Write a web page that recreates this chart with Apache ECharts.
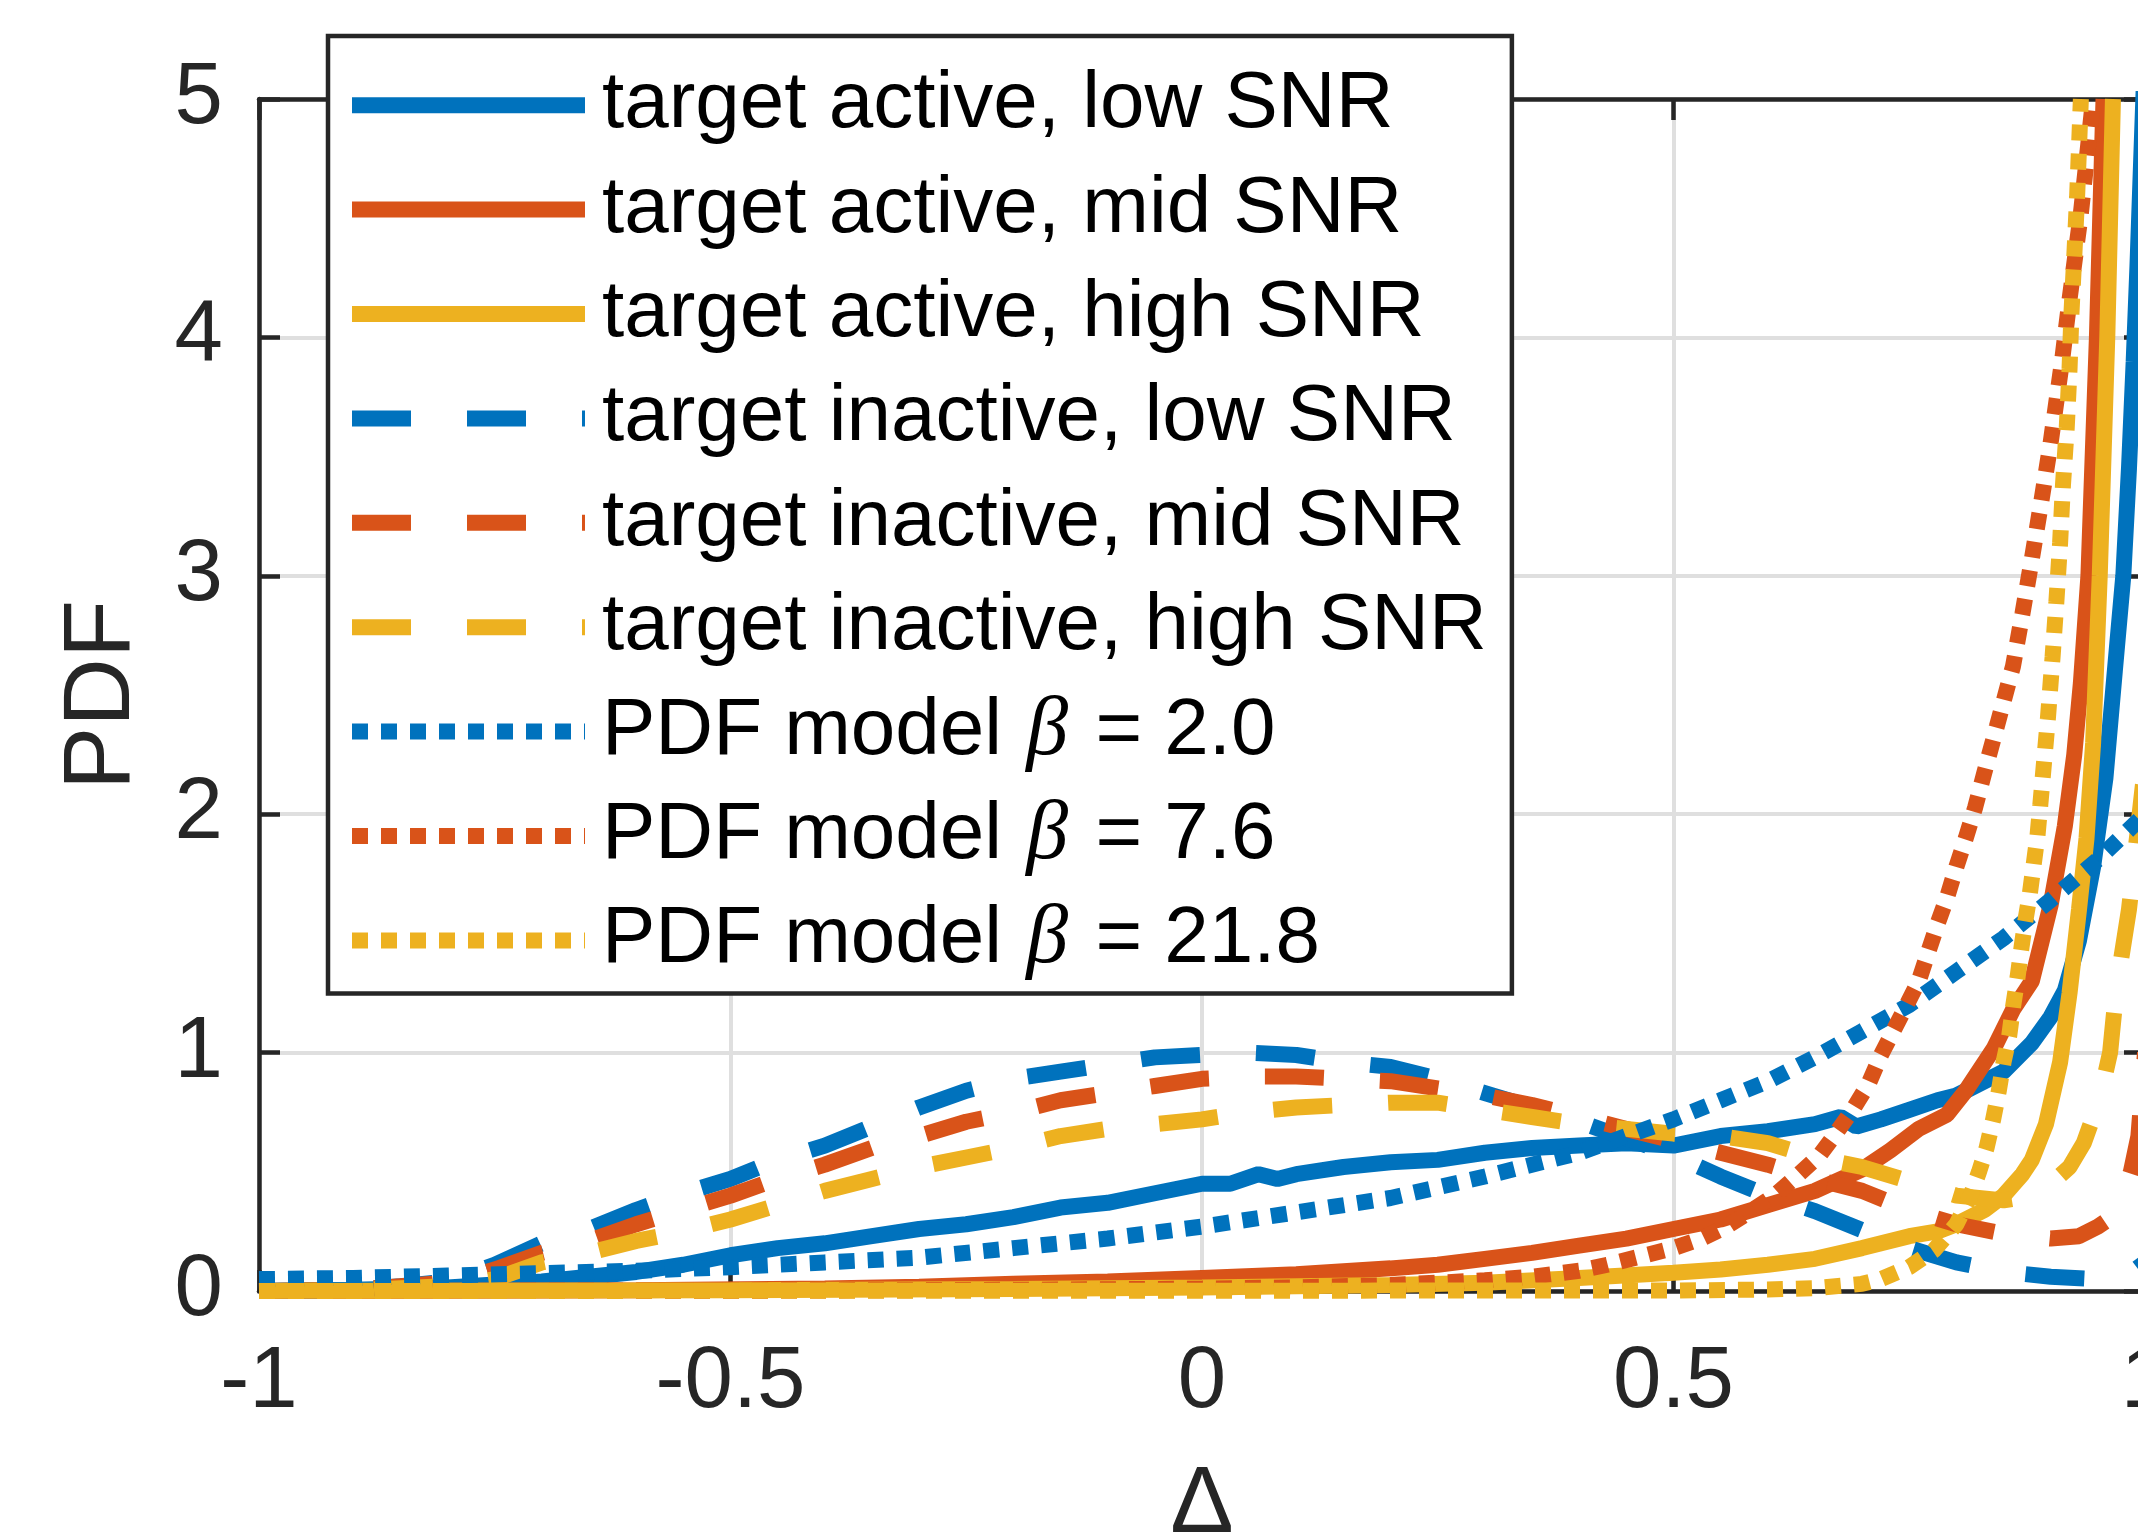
<!DOCTYPE html>
<html>
<head>
<meta charset="utf-8">
<script src="https://cdn.jsdelivr.net/npm/echarts@6/dist/echarts.min.js"></script>
<style>
html, body { margin: 0; padding: 0; background: #fff; }
#chart { width: 2138px; height: 1537px; }
</style>
</head>
<body>
<div id="chart"></div>
<script>
// [delta, pdf] pairs
var activeLow = [[-1, 0], [-0.9, 0.005], [-0.8, 0.015], [-0.7, 0.04], [-0.65, 0.06], [-0.6, 0.08], [-0.55, 0.11], [-0.5, 0.15], [-0.45, 0.18], [-0.4, 0.2], [-0.35, 0.23], [-0.3, 0.26], [-0.25, 0.28], [-0.2, 0.31], [-0.15, 0.35], [-0.1, 0.37], [-0.05, 0.41], [0, 0.45], [0.03, 0.45], [0.06, 0.49], [0.08, 0.47], [0.1, 0.49], [0.15, 0.52], [0.2, 0.54], [0.25, 0.55], [0.3, 0.58], [0.35, 0.6], [0.4, 0.61], [0.45, 0.62], [0.5, 0.61], [0.55, 0.65], [0.6, 0.67], [0.65, 0.7], [0.677, 0.73], [0.694, 0.69], [0.72, 0.72], [0.75, 0.76], [0.78, 0.8], [0.8, 0.82], [0.85, 0.92], [0.88, 1.04], [0.9, 1.15], [0.915, 1.26], [0.93, 1.47], [0.945, 1.78], [0.958, 2.15], [0.968, 2.6], [0.977, 3.0], [0.983, 3.45], [0.988, 3.9], [0.992, 4.3], [1.0, 5.2]]
var activeMid = [[-1, 0], [-0.8, 0.001], [-0.6, 0.003], [-0.4, 0.01], [-0.3, 0.018], [-0.2, 0.03], [-0.1, 0.04], [0, 0.055], [0.1, 0.07], [0.2, 0.095], [0.25, 0.11], [0.3, 0.135], [0.35, 0.16], [0.4, 0.19], [0.45, 0.22], [0.5, 0.26], [0.55, 0.3], [0.6, 0.36], [0.65, 0.42], [0.7, 0.51], [0.73, 0.59], [0.76, 0.68], [0.79, 0.74], [0.81, 0.84], [0.84, 1.02], [0.86, 1.18], [0.88, 1.3], [0.9, 1.62], [0.915, 1.95], [0.925, 2.25], [0.932, 2.55], [0.94, 3.0], [0.949, 4.0], [0.956, 5.0]]
var activeHigh = [[-1, 0], [-0.5, 0.003], [-0.2, 0.008], [0, 0.015], [0.2, 0.025], [0.3, 0.035], [0.4, 0.055], [0.5, 0.077], [0.55, 0.09], [0.6, 0.11], [0.65, 0.135], [0.7, 0.18], [0.75, 0.23], [0.78, 0.25], [0.8, 0.28], [0.83, 0.34], [0.85, 0.4], [0.87, 0.49], [0.88, 0.55], [0.895, 0.7], [0.91, 0.96], [0.92, 1.25], [0.93, 1.6], [0.938, 1.9], [0.945, 2.3], [0.952, 3.0], [0.96, 4.0], [0.966, 5.0]]
var inactiveLow = [[-1, 0], [-0.9, 0.005], [-0.85, 0.02], [-0.8, 0.04], [-0.75, 0.11], [-0.7, 0.2], [-0.65, 0.26], [-0.6, 0.34], [-0.55, 0.41], [-0.5, 0.47], [-0.45, 0.55], [-0.4, 0.61], [-0.35, 0.69], [-0.3, 0.77], [-0.25, 0.84], [-0.2, 0.89], [-0.15, 0.92], [-0.1, 0.95], [-0.05, 0.98], [0, 0.99], [0.05, 1.0], [0.1, 0.99], [0.15, 0.96], [0.2, 0.94], [0.25, 0.89], [0.3, 0.83], [0.35, 0.77], [0.4, 0.71], [0.45, 0.64], [0.5, 0.57], [0.55, 0.48], [0.6, 0.4], [0.65, 0.335], [0.7, 0.255], [0.75, 0.18], [0.8, 0.12], [0.85, 0.08], [0.9, 0.06], [0.95, 0.05], [0.98, 0.06], [1.0, 0.12]]
var inactiveMid = [[-1, 0], [-0.9, 0.005], [-0.85, 0.02], [-0.8, 0.035], [-0.75, 0.09], [-0.7, 0.16], [-0.65, 0.21], [-0.6, 0.28], [-0.55, 0.34], [-0.5, 0.4], [-0.45, 0.47], [-0.4, 0.53], [-0.35, 0.6], [-0.3, 0.65], [-0.25, 0.71], [-0.2, 0.75], [-0.15, 0.8], [-0.1, 0.83], [-0.05, 0.86], [0, 0.89], [0.05, 0.9], [0.1, 0.9], [0.15, 0.89], [0.2, 0.88], [0.25, 0.85], [0.3, 0.82], [0.35, 0.78], [0.4, 0.73], [0.45, 0.68], [0.5, 0.63], [0.55, 0.58], [0.6, 0.53], [0.65, 0.47], [0.7, 0.42], [0.75, 0.34], [0.8, 0.28], [0.85, 0.24], [0.9, 0.22], [0.93, 0.23], [0.95, 0.27], [0.965, 0.31], [0.975, 0.38], [0.985, 0.5], [0.993, 0.65], [1.0, 1.0]]
var inactiveHigh = [[-1, 0], [-0.9, 0.003], [-0.8, 0.02], [-0.75, 0.05], [-0.7, 0.12], [-0.65, 0.16], [-0.6, 0.21], [-0.55, 0.25], [-0.5, 0.3], [-0.45, 0.36], [-0.4, 0.42], [-0.35, 0.47], [-0.3, 0.52], [-0.25, 0.56], [-0.2, 0.6], [-0.15, 0.65], [-0.1, 0.68], [-0.05, 0.7], [0, 0.72], [0.05, 0.75], [0.1, 0.77], [0.15, 0.78], [0.2, 0.79], [0.25, 0.79], [0.3, 0.76], [0.35, 0.73], [0.4, 0.7], [0.45, 0.68], [0.5, 0.66], [0.55, 0.65], [0.6, 0.62], [0.65, 0.56], [0.7, 0.52], [0.75, 0.46], [0.8, 0.4], [0.85, 0.38], [0.88, 0.4], [0.9, 0.45], [0.92, 0.52], [0.935, 0.62], [0.945, 0.73], [0.955, 0.86], [0.963, 1.0], [0.968, 1.2], [0.975, 1.4], [0.983, 1.6], [0.99, 1.85], [1.0, 2.2]]
var modelBeta2 = [[-1, 0.05], [-0.9, 0.055], [-0.8, 0.065], [-0.7, 0.075], [-0.6, 0.085], [-0.5, 0.1], [-0.4, 0.12], [-0.3, 0.14], [-0.2, 0.18], [-0.1, 0.22], [0, 0.27], [0.1, 0.33], [0.2, 0.39], [0.3, 0.48], [0.4, 0.58], [0.5, 0.72], [0.55, 0.8], [0.6, 0.88], [0.65, 0.98], [0.7, 1.09], [0.75, 1.2], [0.8, 1.34], [0.85, 1.48], [0.9, 1.64], [0.95, 1.81], [1.0, 2.0]]
var modelBeta76 = [[-1, 0], [-0.5, 0.001], [-0.2, 0.005], [0, 0.01], [0.1, 0.015], [0.2, 0.025], [0.25, 0.035], [0.3, 0.045], [0.35, 0.06], [0.4, 0.085], [0.43, 0.11], [0.46, 0.14], [0.5, 0.18], [0.53, 0.22], [0.556, 0.27], [0.58, 0.33], [0.607, 0.4], [0.633, 0.49], [0.655, 0.57], [0.672, 0.66], [0.69, 0.76], [0.707, 0.87], [0.72, 0.99], [0.733, 1.09], [0.746, 1.19], [0.76, 1.3], [0.77, 1.42], [0.78, 1.54], [0.79, 1.65], [0.8, 1.78], [0.81, 1.9], [0.82, 2.03], [0.83, 2.18], [0.843, 2.37], [0.86, 2.62], [0.87, 2.84], [0.88, 3.07], [0.89, 3.31], [0.9, 3.56], [0.912, 3.9], [0.92, 4.16], [0.932, 4.52], [0.945, 5.0]]
var modelBeta218 = [[-1, 0], [0.5, 0.002], [0.6, 0.006], [0.65, 0.012], [0.7, 0.03], [0.72, 0.05], [0.75, 0.1], [0.776, 0.17], [0.8, 0.28], [0.815, 0.4], [0.824, 0.5], [0.832, 0.6], [0.839, 0.72], [0.845, 0.84], [0.85, 0.96], [0.856, 1.07], [0.86, 1.19], [0.865, 1.32], [0.869, 1.44], [0.873, 1.55], [0.878, 1.67], [0.882, 1.79], [0.886, 1.91], [0.889, 2.04], [0.893, 2.22], [0.897, 2.4], [0.902, 2.66], [0.906, 2.89], [0.91, 3.14], [0.913, 3.38], [0.917, 3.62], [0.92, 3.87], [0.922, 4.1], [0.925, 4.34], [0.928, 4.59], [0.932, 5.0]]

var seriesNames = ['target active, low SNR', 'target active, mid SNR', 'target active, high SNR',
  'target inactive, low SNR', 'target inactive, mid SNR', 'target inactive, high SNR',
  'PDF model β = 2.0', 'PDF model β = 7.6', 'PDF model β = 21.8']
var seriesData = [activeLow, activeMid, activeHigh, inactiveLow, inactiveMid, inactiveHigh, modelBeta2, modelBeta76, modelBeta218]
var xTicks = [-1, -0.5, 0, 0.5, 1]
var yTicks = [0, 1, 2, 3, 4, 5]

var colors = ['#0072BD', '#D95319', '#EDB120']
var dashes = ['solid', [59, 56], [16, 13]]
var axisColor = '#262626'
var font = 'Liberation Sans'

var chart = echarts.init(document.getElementById('chart'))

var series = seriesData.map(function (d, i) {
  return {
    name: seriesNames[i],
    type: 'line',
    data: d,
    symbol: 'none',
    showSymbol: false,
    animation: false,
    clip: true,
    lineStyle: {
      color: colors[i % 3],
      width: 16,
      type: dashes[Math.floor(i / 3)],
      cap: 'butt'
    },
    itemStyle: { color: colors[i % 3] }
  }
})

function axisBase (pos, ticks) {
  return {
    type: 'value',
    position: pos,
    min: ticks[0],
    max: ticks[ticks.length - 1],
    interval: ticks[1] - ticks[0],
    axisLine: { show: true, onZero: false, lineStyle: { color: axisColor, width: 4.5 } },
    axisTick: { show: true, inside: true, length: 21, lineStyle: { color: axisColor, width: 4.5 } },
    splitLine: { show: false },
    axisLabel: { show: false }
  }
}

var xBottom = axisBase('bottom', xTicks)
xBottom.splitLine = { show: true, lineStyle: { color: '#dfdfdf', width: 4 } }
xBottom.axisLabel = { show: true, margin: 49, fontSize: 87, fontFamily: font, color: axisColor }
xBottom.name = 'Δ'
xBottom.nameLocation = 'middle'
xBottom.nameGap = 167
xBottom.nameTextStyle = { fontSize: 95, fontFamily: font, color: axisColor }

var yLeft = axisBase('left', yTicks)
yLeft.splitLine = { show: true, lineStyle: { color: '#dfdfdf', width: 4 } }
yLeft.axisLabel = { show: true, margin: 36, fontSize: 87, fontFamily: font, color: axisColor, padding: [9, 0, 0, 0] }
yLeft.name = 'PDF'
yLeft.nameLocation = 'middle'
yLeft.nameGap = 109
yLeft.nameTextStyle = { fontSize: 95, fontFamily: font, color: axisColor }

chart.setOption({
  backgroundColor: '#fff',
  animation: false,
  grid: { left: 259, right: -7, top: 99, bottom: 246, outerBoundsMode: 'none', containLabel: false },
  xAxis: [xBottom, axisBase('top', xTicks)],
  yAxis: [yLeft, axisBase('right', yTicks)],
  legend: {
    data: seriesNames,
    orient: 'vertical',
    left: 328,
    top: 36,
    padding: [17, 25, 1, 16],
    itemWidth: 233,
    itemHeight: 16,
    itemGap: 0,
    selectedMode: false,
    backgroundColor: '#fff',
    borderColor: axisColor,
    borderWidth: 4.5,
    borderRadius: 0,
    itemStyle: { opacity: 0 },
    lineStyle: { width: 16 },
    formatter: function (name) {
      var m = name.match(/^PDF model β = (.*)$/)
      return m ? '{t|PDF model }{b|β}{t| = ' + m[1] + '}' : name
    },
    textStyle: {
      fontFamily: font,
      fontSize: 80,
      color: '#000',
      lineHeight: 104.4,
      padding: [0, 0, 0, 12],
      rich: {
        t: { fontFamily: font, fontSize: 80, color: '#000', lineHeight: 104.4 },
        b: { fontFamily: 'Liberation Serif', fontStyle: 'italic', fontSize: 84, color: '#000', lineHeight: 104.4, padding: [0, 5, 0, 2] }
      }
    }
  },
  series: series
})
</script>
</body>
</html>
